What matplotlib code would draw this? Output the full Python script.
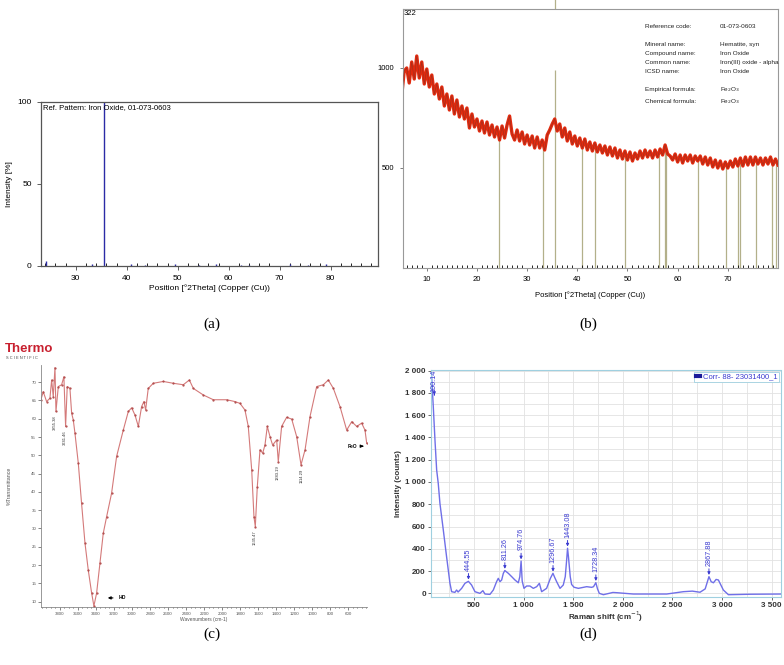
# ------------------------------------------------------------------------------
# -------------------------------------------------------------- IMPORT PACKAGES
import matplotlib
matplotlib.use('Agg')
import matplotlib.pyplot as plt
from matplotlib.ticker import MultipleLocator, FuncFormatter

# ------------------------------------------------------------------------- DATA
# (a) reference pattern sticks
ref_a_pos = [24.1, 33.2, 35.6, 40.9, 43.5, 49.5, 54.1, 57.6, 62.5, 64.0, 72.0, 75.5, 79.0]
ref_a_int = [3.0, 0.8, 100.0, 0.8, 0.6, 0.8, 0.6, 1.0, 0.6, 0.6, 1.0, 0.6, 0.8]

# (b) measured pattern, 0.5 deg steps from 5 to 80
xrd_x = [5.0 + 0.5 * i for i in range(151)]
xrd_y = [860, 985, 1000, 925, 1030, 945, 1060, 950, 1030, 920,
         995, 905, 965, 870, 920, 845, 905, 810, 870, 790,
         860, 770, 840, 755, 810, 745, 800, 700, 770, 705,
         745, 685, 735, 675, 730, 665, 715, 655, 705, 640,
         710, 650, 715, 760, 670, 640, 690, 635, 680, 620,
         665, 615, 660, 600, 655, 600, 640, 590, 665, 690,
         720, 745, 685, 720, 655, 700, 635, 680, 620, 660,
         610, 650, 600, 645, 590, 630, 585, 625, 580, 615,
         575, 610, 565, 605, 560, 600, 550, 590, 545, 585,
         540, 580, 535, 575, 545, 585, 550, 590, 555, 585,
         550, 590, 555, 595, 565, 615, 570, 560, 540, 570,
         530, 565, 525, 565, 535, 565, 525, 560, 535, 560,
         520, 555, 515, 550, 505, 540, 500, 535, 495, 530,
         500, 535, 505, 545, 510, 550, 510, 555, 515, 555,
         515, 555, 520, 550, 515, 550, 520, 555, 515, 545,
         515]
ref_b_pos = [24.3, 33.2, 35.6, 40.9, 43.5, 49.5, 56.3, 57.5, 57.7, 64.0, 69.7, 72.1, 72.4, 75.6, 78.8, 79.6]
ref_b_top = [650, 610, 990, 610, 600, 555, 565, 585, 575, 540, 510, 520, 525, 530, 540, 530]
info_keys = ['Reference code:', 'Mineral name:', 'Compound name:', 'Common name:',
             'ICSD name:', 'Empirical formula:', 'Chemical formula:']
info_vals = ['01-073-0603', 'Hematite, syn', 'Iron Oxide', 'Iron(III) oxide - alpha',
             'Iron Oxide', 'Fe$_2$O$_3$', 'Fe$_2$O$_3$']

# (c) FTIR
ir_x = [4011, 3985, 3948, 3911, 3892, 3874, 3855, 3844, 3818, 3781, 3756, 3737, 3719,
        3689, 3670, 3652, 3633, 3596, 3560, 3522, 3486, 3448, 3423, 3393, 3356, 3319,
        3282, 3227, 3171, 3097, 3041, 3004, 2967, 2930, 2894, 2868, 2849, 2820, 2764,
        2653, 2542, 2431, 2364, 2320, 2209, 2098, 1950, 1858, 1802, 1747, 1710, 1672,
        1647, 1632, 1610, 1580, 1550, 1525, 1499, 1469, 1440, 1395, 1377, 1340, 1284,
        1228, 1173, 1125, 1080, 1025, 951, 877, 822, 766, 692, 618, 562, 507, 452, 415, 396]
ir_y = [65.2, 67.4, 64.7, 65.6, 70.6, 66.0, 74.0, 62.0, 68.8, 69.3, 71.5, 57.9, 68.8,
        68.3, 61.5, 59.7, 56.0, 47.8, 36.9, 26.0, 18.7, 12.3, 8.8, 12.3, 20.5, 28.7,
        33.2, 39.6, 49.7, 56.9, 62.0, 63.0, 61.0, 57.9, 63.3, 64.7, 62.4, 68.3, 69.7,
        70.2, 69.7, 69.3, 70.6, 68.3, 66.5, 65.2, 65.2, 64.7, 64.2, 62.4, 57.9, 46.0,
        33.2, 30.5, 41.4, 51.5, 50.6, 52.8, 57.9, 55.1, 52.8, 54.2, 48.3, 57.9, 60.4,
        59.9, 55.1, 47.4, 51.5, 60.6, 68.8, 69.3, 70.6, 68.3, 63.3, 56.9, 59.2, 57.9, 58.8, 56.9, 53.3]
ir_peak_x = [3855, 3741, 1635, 1383, 1114]
ir_peak_y = [62.0, 57.9, 30.5, 48.3, 47.4]
ir_peak_lab = ['3855.38', '3741.46', '1635.47', '1383.19', '1114.29']

# (d) Raman
ram_x = [66, 73, 90, 107, 124, 140, 157, 191, 224, 241, 258, 275, 308, 325, 340, 376,
         409, 444, 476, 510, 560, 590, 611, 661, 695, 728, 745, 762, 779, 796, 811, 846,
         880, 913, 947, 962, 975, 986, 1004, 1031, 1064, 1098, 1132, 1159, 1182, 1232,
         1270, 1296, 1315, 1333, 1367, 1400, 1420, 1434, 1443, 1452, 1470, 1484, 1508,
         1552, 1636, 1686, 1705, 1728, 1745, 1763, 1804, 1900, 1938, 2106, 2442, 2610,
         2700, 2778, 2830, 2868, 2890, 2913, 2940, 2963, 3013, 3064, 3282, 3594]
ram_y = [2000, 1950, 1677, 1377, 1108, 988, 808, 569, 329, 210, 90, 15, 9, 30, 12, 45,
         90, 108, 75, 15, 0, 24, -6, -9, 30, 105, 135, 105, 120, 180, 205, 180,
         150, 120, 95, 150, 290, 110, 45, 66, 66, 45, 60, 90, 15, 45,
         135, 180, 140, 105, 45, 75, 150, 300, 405, 330, 150, 80, 55,
         45, 60, 54, 60, 96, 40, 0, -12, 8, 6, -6, -6, 15,
         20, 10, 40, 150, 105, 95, 125, 120, 30, -12, -8, -6]
ram_pk_x = [100.14, 444.55, 811.26, 974.76, 1296.67, 1443.08, 1728.34, 2867.88]
ram_pk_y = [1780, 108, 205, 290, 180, 405, 96, 150]

# ------------------------------------------------------------------------ SETUP
plt.rcParams['font.family'] = ['Liberation Sans', 'DejaVu Sans']
W, H = 784.0, 665.0
fig = plt.figure(figsize=(7.84, 6.65), dpi=100)


def box(x0, y0, x1, y1):
	return [x0 / W, 1 - y1 / H, (x1 - x0) / W, (y1 - y0) / H]


# ----------------------------------------------------------------- PANEL (a)
ax = fig.add_axes(box(40.7, 102, 378, 265.7))
ax.vlines(ref_a_pos, 0, ref_a_int, color='#2b2ba6', lw=1.0)
ax.set_xlim(23.1, 89.3)
ax.set_ylim(0, 100)
ax.set_yticks([0, 50, 100])
ax.set_xticks([30, 40, 50, 60, 70, 80])
ax.xaxis.set_minor_locator(MultipleLocator(2))
ax.tick_params(labelsize=6, length=3, width=0.6, color='#444444')
ax.tick_params(which='minor', direction='in', length=2, width=0.6)
for s in ax.spines.values():
	s.set_color('#555555')
	s.set_linewidth(0.9)
ax.set_xlabel('Position [\u00b02Theta] (Copper (Cu))', fontsize=6, labelpad=2)
ax.set_ylabel('Intensity [%]', fontsize=6, labelpad=3)
ax.text(0.006, 0.985, 'Ref. Pattern: Iron Oxide, 01-073-0603', transform=ax.transAxes,
        fontsize=5.5, va='top', ha='left')

# ----------------------------------------------------------------- PANEL (b)
ax = fig.add_axes(box(402.7, 9, 778, 268))
ax.vlines(ref_b_pos, 0, ref_b_top, color='#b3b08a', lw=0.9, zorder=1)
ax.plot([35.6, 35.6], [1300, 1340], color='#b3b08a', lw=0.9, clip_on=False)
ax.plot(xrd_x, xrd_y, color='#e22a0e', lw=2.4, zorder=2)
ax.plot(xrd_x, xrd_y, color='#9a3020', lw=0.4, zorder=3)
ax.set_xlim(5.2, 80)
ax.set_ylim(0, 1295)
ax.set_yticks([500, 1000])
ax.set_xticks([10, 20, 30, 40, 50, 60, 70])
ax.xaxis.set_minor_locator(MultipleLocator(1))
ax.tick_params(labelsize=5.5, length=2.5, width=0.6, color='#666666')
ax.tick_params(which='minor', direction='in', length=2, width=0.6)
for s in ax.spines.values():
	s.set_color('#999999')
	s.set_linewidth(0.8)
ax.set_xlabel('Position [\u00b02Theta] (Copper (Cu))', fontsize=5.5, labelpad=6)
ax.text(0.003, 0.995, '322', transform=ax.transAxes, fontsize=5.5, va='top', ha='left')
rows = [26.7, 44.3, 53.7, 62.7, 71.7, 90, 101.7]
for k, v, r in zip(info_keys, info_vals, rows):
	fig.text(645 / W, 1 - r / H, k, fontsize=4.6, va='center', ha='left', color='#222222')
	fig.text(720 / W, 1 - r / H, v, fontsize=4.6, va='center', ha='left', color='#222222')

# ----------------------------------------------------------------- PANEL (c)
ax = fig.add_axes(box(41, 365, 366.7, 606.7))
ax.plot(ir_x, ir_y, color='#d47a7a', lw=0.8)
ax.plot(ir_x, ir_y, ls='none', marker='.', ms=1.2, color='#b04848')
ax.set_xlim(4010, 396)
ax.set_ylim(8.6, 74.7)
ax.set_xticks(list(range(3800, 500, -200)))
ax.set_yticks(list(range(10, 71, 5)))
ax.xaxis.set_minor_locator(MultipleLocator(50))
ax.tick_params(labelsize=3.2, length=2, width=0.5, colors='#555555', pad=1.5)
ax.tick_params(which='minor', length=1, width=0.4)
ax.spines['top'].set_visible(False)
ax.spines['right'].set_visible(False)
for s in ['left', 'bottom']:
	ax.spines[s].set_color('#888888')
	ax.spines[s].set_linewidth(0.6)
ax.set_xlabel('Wavenumbers (cm-1)', fontsize=3.5, color='#555555', labelpad=1)
ax.set_ylabel('%Transmittance', fontsize=3.8, color='#555555', labelpad=14)
for px, py, lab in zip(ir_peak_x, ir_peak_y, ir_peak_lab):
	ax.text(px, py - 1.0, lab, rotation=90, fontsize=3, ha='center', va='top', color='#333333')
ax.annotate('HO', xy=(3300, 11.0), xytext=(3150, 11.0), fontsize=3.5, fontweight='bold',
            va='center', ha='left',
            arrowprops=dict(arrowstyle='-|>', color='black', lw=0.8, mutation_scale=4))
ax.annotate('FeO', xy=(430, 52.5), xytext=(610, 52.5), fontsize=3.5, fontweight='bold',
            va='center', ha='left',
            arrowprops=dict(arrowstyle='-|>', color='black', lw=0.8, mutation_scale=4))
fig.text(5 / W, 1 - 349 / H, 'Thermo', color='#c8202f', fontsize=9.5, fontweight='bold',
         va='center', ha='left')
fig.text(6 / W, 1 - 358 / H, 'S C I E N T I F I C', color='#444444', fontsize=2.8,
         va='center', ha='left')

# ----------------------------------------------------------------- PANEL (d)
blue = '#6f6fe8'
tblue = '#3b3bd0'
ax = fig.add_axes(box(430.7, 370, 781, 596.7))
ax.plot(ram_x, ram_y, color=blue, lw=1.0, label='Corr- 88- 23031400_1')
ax.set_xlim(64, 3594)
ax.set_ylim(-30, 2005)
ax.xaxis.set_major_locator(MultipleLocator(500))
ax.xaxis.set_minor_locator(MultipleLocator(250))
ax.yaxis.set_major_locator(MultipleLocator(200))
ax.yaxis.set_minor_locator(MultipleLocator(100))
fmt = FuncFormatter(lambda v, p: '{:,.0f}'.format(v).replace(',', ' '))
ax.xaxis.set_major_formatter(fmt)
ax.yaxis.set_major_formatter(fmt)
ax.grid(True, which='both', color='#e2e2e2', lw=0.6)
ax.set_axisbelow(True)
ax.tick_params(labelsize=5.8, length=2, width=0.5, colors='#333333', pad=1.5)
ax.tick_params(which='minor', length=0)
for t in ax.get_xticklabels() + ax.get_yticklabels():
	t.set_fontweight('bold')
for s in ax.spines.values():
	s.set_color('#9fd0e0')
	s.set_linewidth(0.8)
ax.spines['top'].set_linestyle((0, (2, 1)))
ax.set_xlabel('Raman shift (cm$^{-1}$)', fontsize=5.8, fontweight='bold', labelpad=1, color='#333333')
ax.set_ylabel('Intensity (counts)', fontsize=5.8, fontweight='bold', labelpad=2, color='#333333')
for i, (px, py) in enumerate(zip(ram_pk_x, ram_pk_y)):
	if i == 0:
		tip, tail = py, py + 25
	else:
		tip, tail = py + 15, py + 95
	ax.annotate('%.2f' % px, xy=(px, tip), xytext=(px, tail), rotation=90,
	            fontsize=5.2, ha='center', va='bottom', color=tblue,
	            arrowprops=dict(arrowstyle='-|>', color=tblue, lw=0.7, mutation_scale=4,
	                            shrinkA=0, shrinkB=0))
leg = ax.legend(loc='upper right', fontsize=5.5, handlelength=0.6, handletextpad=0.4,
                borderpad=0.2, borderaxespad=0.2, fancybox=False, framealpha=1)
leg.get_frame().set_edgecolor('#9fd0e0')
leg.get_frame().set_linewidth(0.6)
for t in leg.get_texts():
	t.set_color(tblue)
leg.legend_handles[0].set_linewidth(3)
leg.legend_handles[0].set_color('#1a1a9a')

# --------------------------------------------------------------------- CAPTIONS
for lab, cx, cy in [('(a)', 212, 324), ('(b)', 588, 324), ('(c)', 212, 634), ('(d)', 588, 634)]:
	fig.text(cx / W, 1 - cy / H, lab, fontsize=11, family='Liberation Serif',
	         ha='center', va='center')

fig.savefig('out.png', dpi=100)
